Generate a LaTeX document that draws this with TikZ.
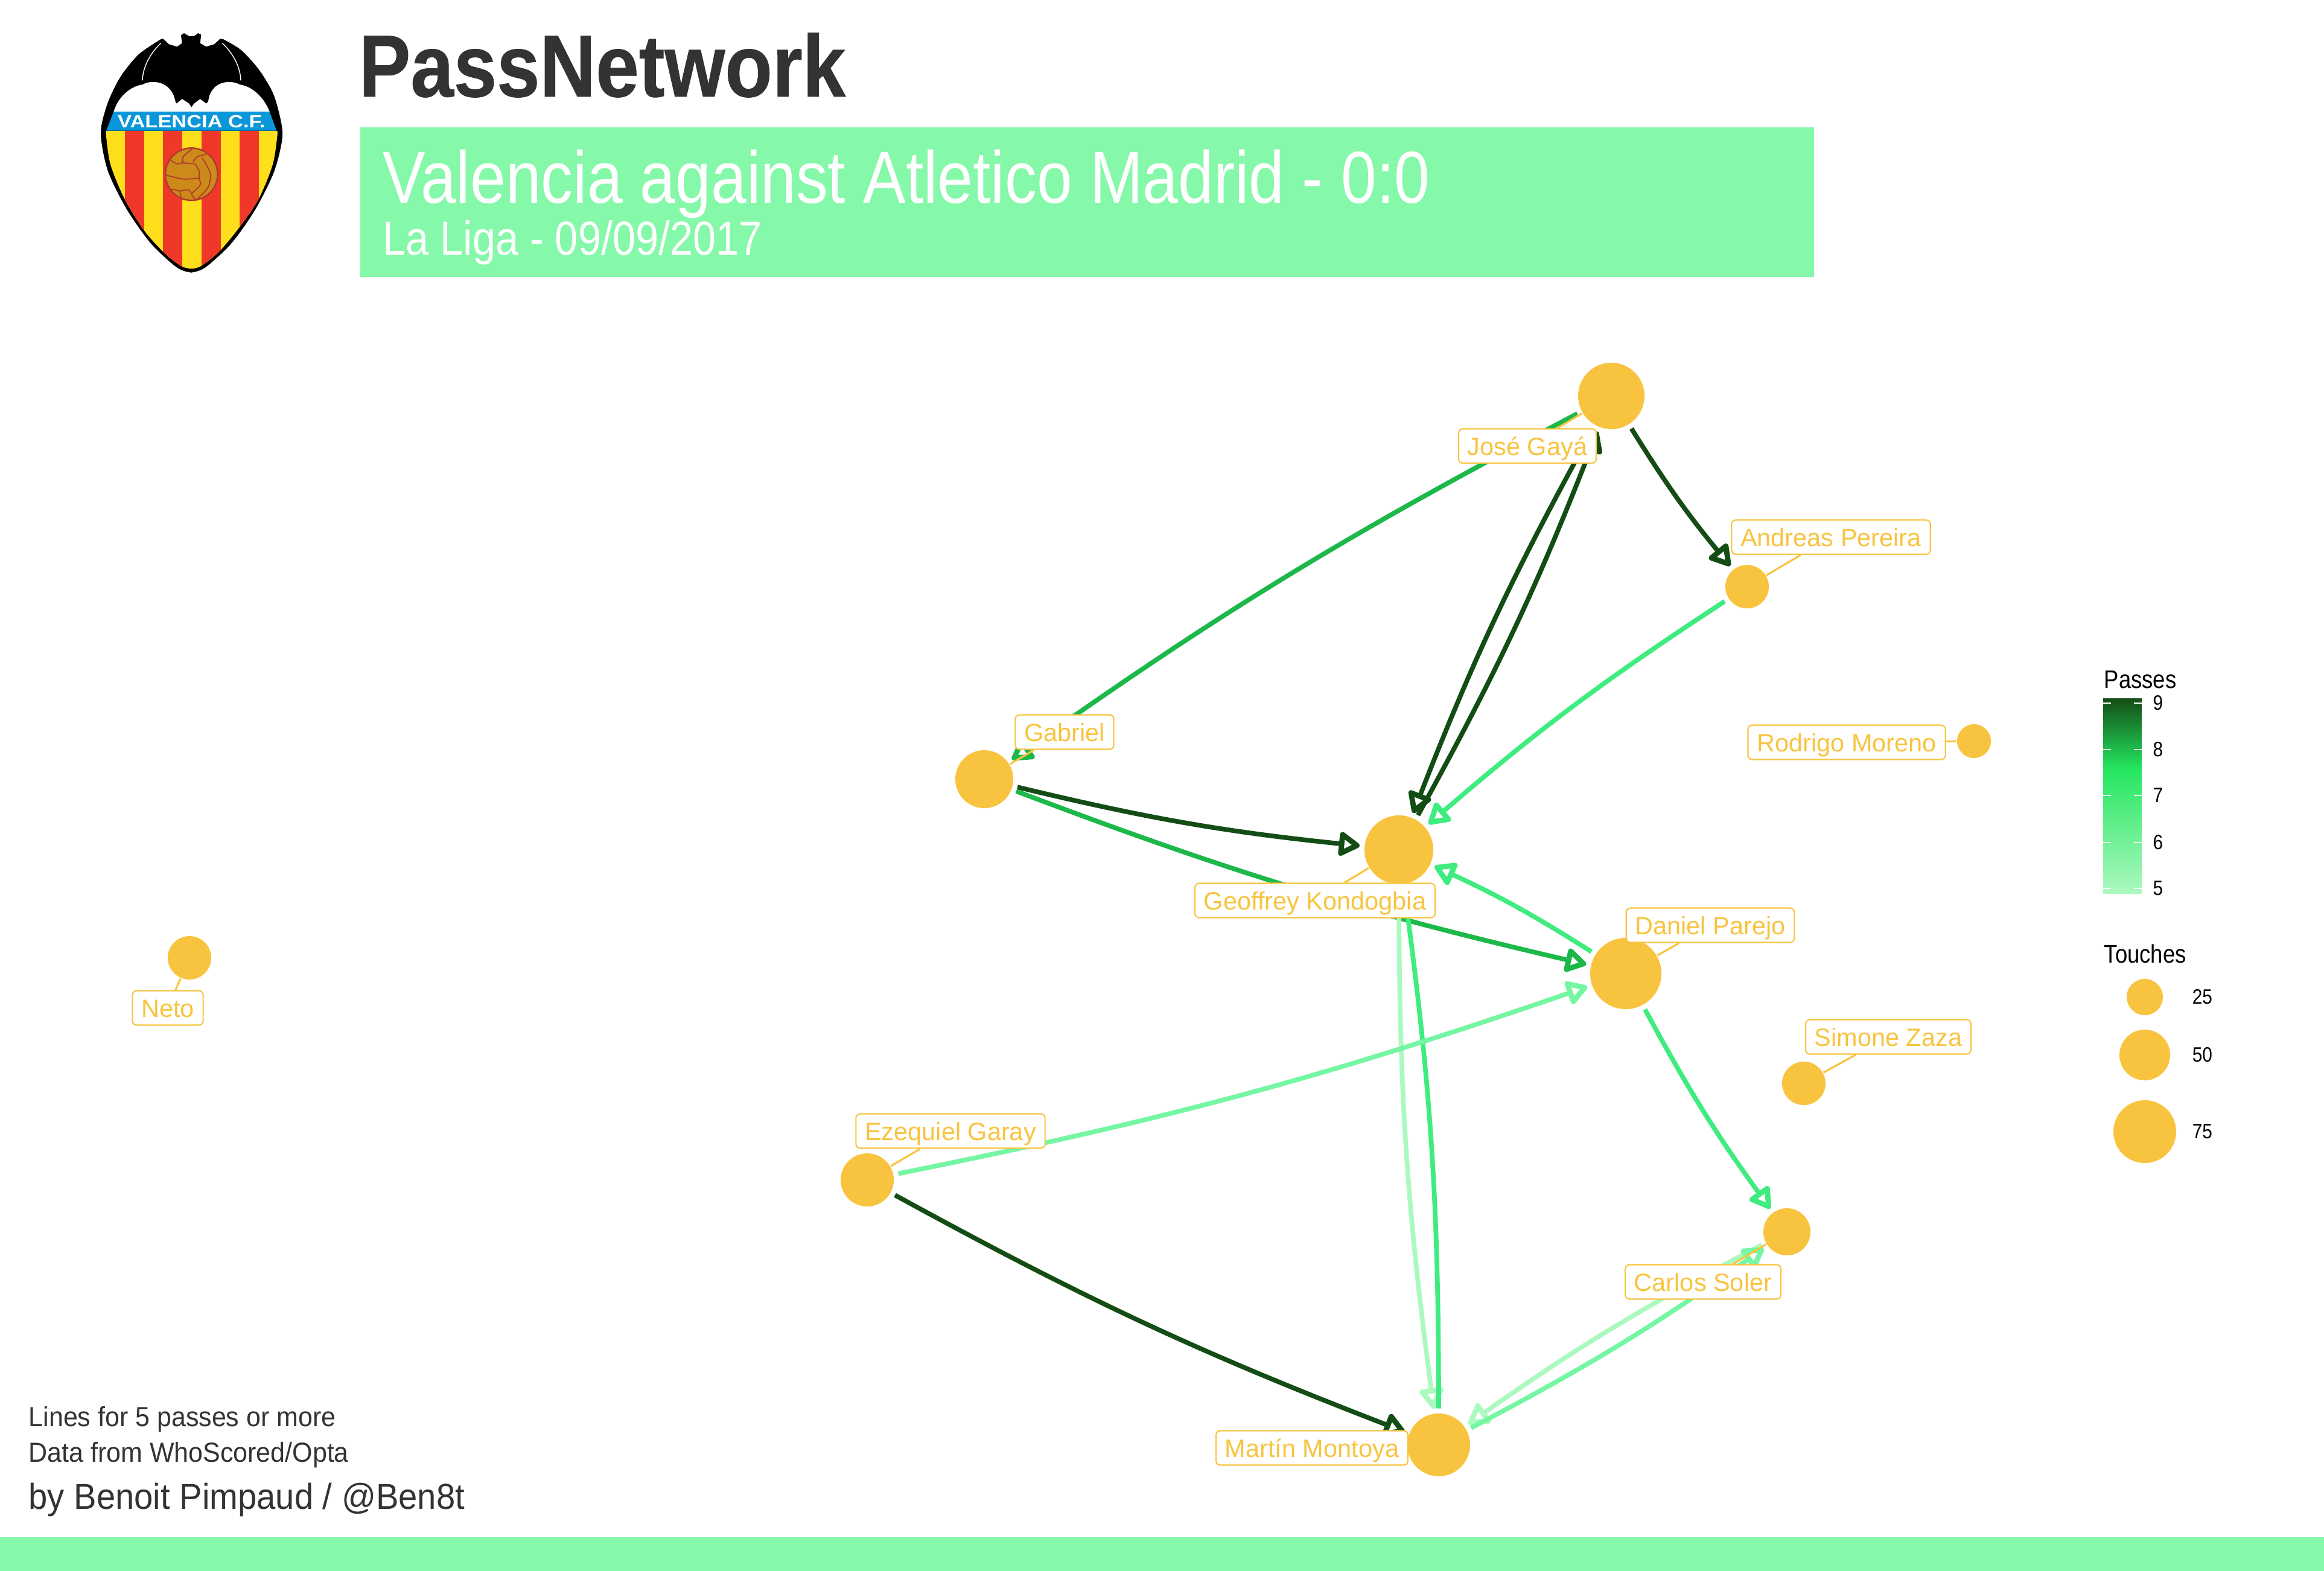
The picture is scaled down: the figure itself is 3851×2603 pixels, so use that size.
\documentclass[tikz,border=0pt]{standalone}
\usepackage{fontspec}
\setmainfont{Liberation Sans}
\newfontfamily\condfont[FakeStretch=0.865]{Liberation Sans}
\newfontfamily\titlefont[FakeStretch=0.88,FakeBold=0.6]{Liberation Sans Bold}
\newfontfamily\notefont[FakeStretch=0.94]{Liberation Sans}
\newfontfamily\crestfont[FakeStretch=1.18]{Liberation Sans}
\usetikzlibrary{arrows.meta}
\definecolor{touch}{HTML}{F8C43F}
\definecolor{banner}{HTML}{86F8A9}
\definecolor{inkgray}{HTML}{333333}
\definecolor{passFive}{HTML}{ACF9C0}
\definecolor{passSix}{HTML}{75F6A3}
\definecolor{passSeven}{HTML}{3FEC7F}
\definecolor{passBright}{HTML}{25E660}
\definecolor{passEight}{HTML}{1CB84A}
\definecolor{passNine}{HTML}{134D15}
\definecolor{crestBlue}{HTML}{0A97D9}
\definecolor{crestRed}{HTML}{F0382A}
\definecolor{crestYellow}{HTML}{FFDF1B}
\definecolor{ballFill}{HTML}{CC8A1A}
\definecolor{ballSeam}{HTML}{B03A2A}
\tikzset{
  player/.style={circle,fill=touch,inner sep=0pt,minimum size=#1*0.02cm,outer sep=2.4pt},
  pass/.style={draw=#1,line width=2.2pt,bend right=3.8,
    -{Triangle[open,round,length=11pt,width=12.5pt,line width=2.5pt]}},
  namebox/.style={draw=touch,fill=white,text=touch,line width=0.6pt,rounded corners=2pt,
    font=\fontsize{11.8}{11.8}\selectfont,inner xsep=4.2pt,inner ysep=2.3pt,text height=10.2pt,text depth=1.4pt},
  nameline/.style={draw=touch,line width=0.9pt,shorten <=-2pt},
  seam/.style={draw=ballSeam,line width=0.5pt}
}
\begin{document}
\begin{tikzpicture}[x=0.01cm,y=-0.01cm]
  \useasboundingbox (0,0) rectangle (3851,2603);
  % bands
  \fill[banner] (597,211) rectangle (3006,459);
  \fill[banner] (0,2547) rectangle (3851,2603);
  % titles
  \node[anchor=base west,inner sep=0pt,text=inkgray,font=\titlefont\fontsize{41.5}{41.5}\selectfont] (title) at (594,160) {PassNetwork};
  \node[anchor=base west,inner sep=0pt,text=white,font=\condfont\fontsize{34.7}{34.7}\selectfont] (subtitle) at (634,336) {Valencia against Atletico Madrid - 0:0};
  \node[anchor=base west,inner sep=0pt,text=white,font=\condfont\fontsize{22.5}{22.5}\selectfont] (league) at (634,422) {La Liga - 09/09/2017};
  % crest
  \begin{scope}[shift={(100,20)},scale=1/3]
    \fill[black] plot[smooth,tension=0.5] coordinates {(650,1295) (580,1270) (450,1150) (330,980) (240,800) (205,650) (205,560) (240,440) (300,320) (390,210) (500,135)}
      -- (510,132) -- (540,160) -- (580,172) -- (605,155) -- (600,115) -- (615,105) -- (640,120) -- (665,120) -- (685,105) -- (700,112) -- (695,155) -- (725,172) -- (765,160) -- (795,133) -- (810,135)
      plot[smooth,tension=0.5] coordinates {(810,135) (900,190) (990,290) (1060,410) (1100,560) (1100,650) (1060,800) (970,980) (850,1150) (720,1270) (650,1295)} -- cycle;
    \fill[white] (265,495) .. controls (285,430) and (340,370) .. (410,360) .. controls (440,340) and (550,330) .. (572,445)
      -- (578,455) -- (605,432) -- (640,455) -- (652,473) -- (665,455) -- (695,432) -- (725,455) -- (735,445)
      .. controls (750,330) and (860,340) .. (890,360) .. controls (960,370) and (1015,430) .. (1040,495) -- cycle;
    \draw[white,line width=0.4pt] (500,155) .. controls (450,200) and (410,270) .. (408,340);
    \draw[white,line width=0.4pt] (805,155) .. controls (855,200) and (895,270) .. (897,340);
    \fill[crestBlue] (265,495) -- (1040,495) -- (1075,590) -- (228,590) -- cycle;
    \begin{scope}
      \clip plot[smooth,tension=0.5] coordinates {(228,590) (228,620) (250,760) (320,930) (420,1090) (520,1200) (600,1262) (650,1275) (700,1262) (790,1190) (890,1070) (985,930) (1055,760) (1078,620) (1078,590)} -- cycle;
      \fill[crestYellow] (200,590) rectangle (1100,1300);
      \foreach \stripe in {321,511,702,891}
        \fill[crestRed] (\stripe,590) rectangle (\stripe+95,1300);
    \end{scope}
    \node[text=white,inner sep=0pt,font=\crestfont\bfseries\fontsize{8.3}{8.3}\selectfont] (crestname) at (652,545) {VALENCIA C.F.};
    % ball
    \draw[seam,fill=ballFill,line width=0.7pt] (652,806) circle (130);
    \draw[seam] plot[smooth] coordinates {(525,810) (610,830) (690,825)};
    \draw[seam] plot[smooth] coordinates {(655,680) (610,720) (610,750)};
    \draw[seam] plot[smooth] coordinates {(548,735) (580,755) (610,750) (670,755)};
    \draw[seam] plot[smooth] coordinates {(670,755) (690,790) (690,825) (695,860) (650,905)};
    \draw[seam] plot[smooth] coordinates {(730,705) (680,720) (660,745)};
    \draw[seam] plot[smooth] coordinates {(705,725) (745,800) (735,870) (680,930)};
    \draw[seam] plot[smooth] coordinates {(550,880) (590,890) (600,920)};
    \draw[seam] plot[smooth] coordinates {(590,890) (640,885) (660,920) (680,935)};
  \end{scope}
  % players
  \node[player=55] (gaya) at (2670,656) {};
  \node[player=36] (andreas) at (2895,972) {};
  \node[player=28] (rodrigo) at (3271,1228) {};
  \node[player=48] (gabriel) at (1631,1291) {};
  \node[player=57] (kondogbia) at (2318,1408) {};
  \node[player=59] (parejo) at (2694,1613) {};
  \node[player=36] (zaza) at (2989,1795) {};
  \node[player=39] (soler) at (2961,2041) {};
  \node[player=52] (montoya) at (2384,2394) {};
  \node[player=44] (garay) at (1437,1955) {};
  \node[player=36] (neto) at (314,1587) {};
  % passes
  \draw[pass=passEight] (gaya) to (gabriel);
  \draw[pass=passNine] (gaya) to (kondogbia);
  \draw[pass=passNine] (kondogbia) to (gaya);
  \draw[pass=passNine] (gaya) to (andreas);
  \draw[pass=passSeven] (andreas) to (kondogbia);
  \draw[pass=passNine] (gabriel) to (kondogbia);
  \draw[pass=passEight] (gabriel) to (parejo);
  \draw[pass=passSeven] (parejo) to (kondogbia);
  \draw[pass=passFive] (kondogbia) to (montoya);
  \draw[pass=passSeven] (montoya) to (kondogbia);
  \draw[pass=passSix] (garay) to (parejo);
  \draw[pass=passNine] (garay) to (montoya);
  \draw[pass=passSeven] (parejo) to (soler);
  \draw[pass=passFive] (soler) to (montoya);
  \draw[pass=passSix] (montoya) to (soler);
  % names
  \node[namebox] (gayaName) at (2531,739) {José Gayá};
  \node[namebox] (andreasName) at (3034,890) {Andreas Pereira};
  \node[namebox] (rodrigoName) at (3060,1230) {Rodrigo Moreno};
  \node[namebox] (gabrielName) at (1764,1213) {Gabriel};
  \node[namebox] (kondogbiaName) at (2179,1492) {Geoffrey Kondogbia};
  \node[namebox] (parejoName) at (2834,1533) {Daniel Parejo};
  \node[namebox] (zazaName) at (3129,1718) {Simone Zaza};
  \node[namebox] (solerName) at (2822,2124) {Carlos Soler};
  \node[namebox] (montoyaName) at (2174,2399) {Martín Montoya};
  \node[namebox] (garayName) at (1575,1874) {Ezequiel Garay};
  \node[namebox] (netoName) at (278,1670) {Neto};
  \foreach \who in {gaya,andreas,rodrigo,gabriel,kondogbia,parejo,zaza,soler,garay,neto}
    \draw[nameline] (\who) -- (\who Name);
  % legend passes
  \node[anchor=base west,inner sep=0pt,font=\condfont\fontsize{12}{12}\selectfont] (passesTitle) at (3486,1140) {Passes};
  \shade[top color=passNine,bottom color=passBright] (3485,1157) rectangle (3549,1273);
  \shade[top color=passBright,bottom color=passFive] (3485,1273) rectangle (3549,1480);
  \foreach \val/\ypos in {9/1165,8/1242,7/1318,6/1396,5/1472} {
    \draw[white,line width=0.4pt] (3485,\ypos) -- (3498,\ypos);
    \draw[white,line width=0.4pt] (3536,\ypos) -- (3549,\ypos);
    \node[anchor=west,inner sep=0pt,font=\condfont\fontsize{9.8}{9.8}\selectfont] (tick\val) at (3567,\ypos) {\val};
  }
  % legend touches
  \node[anchor=base west,inner sep=0pt,font=\condfont\fontsize{12}{12}\selectfont] (touchesTitle) at (3486,1595) {Touches};
  \foreach \val/\ypos/\rad in {25/1652/30,50/1748/42,75/1875/52} {
    \node[player=\rad] (size\val) at (3554,\ypos) {};
    \node[anchor=west,inner sep=0pt,font=\condfont\fontsize{9.8}{9.8}\selectfont] (sizeText\val) at (3632,\ypos) {\val};
  }
  % notes
  \node[anchor=base west,inner sep=0pt,text=inkgray,font=\notefont\fontsize{13}{13}\selectfont] (noteLines) at (47,2363) {Lines for 5 passes or more};
  \node[anchor=base west,inner sep=0pt,text=inkgray,font=\notefont\fontsize{13}{13}\selectfont] (noteData) at (47,2422) {Data from WhoScored/Opta};
  \node[anchor=base west,inner sep=0pt,text=inkgray,font=\notefont\fontsize{17}{17}\selectfont] (noteAuthor) at (47,2500) {by Benoit Pimpaud / @Ben8t};
\end{tikzpicture}
\end{document}
